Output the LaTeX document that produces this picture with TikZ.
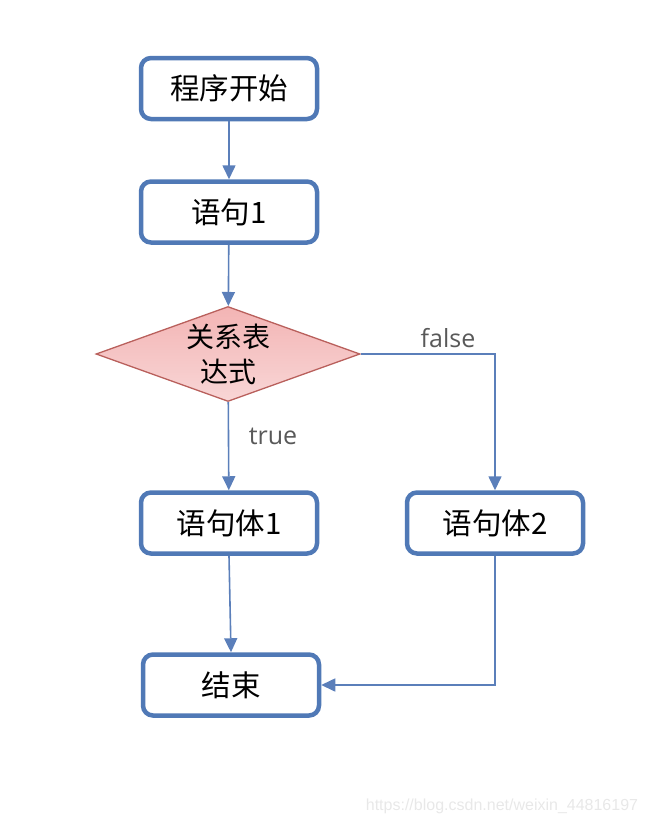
\documentclass[tikz,border=0pt]{standalone}
\usepackage{fontspec}
\setmainfont{Open Sans}
\newfontfamily\cjk{Noto Sans CJK SC}
\newfontfamily\wmfont{Liberation Sans}
\usetikzlibrary{shapes.geometric,arrows.meta}
\definecolor{boxblue}{HTML}{5079B6}
\definecolor{lineblue}{HTML}{5B7FBA}
\definecolor{dmdtop}{HTML}{F3B4B4}
\definecolor{dmdbot}{HTML}{F8D6D6}
\definecolor{dmdline}{HTML}{B9605C}
\definecolor{lbl}{HTML}{595959}
\definecolor{wm}{HTML}{E8E8E8}
\tikzset{
  stepbox/.style={draw=boxblue, line width=4.5pt, rounded corners=10pt, fill=white,
    minimum width=176pt, minimum height=61pt, inner sep=0pt,
    font=\cjk\fontsize{29.5}{34}\selectfont},
  decision/.style={diamond, draw=dmdline, line width=1.3pt, top color=dmdtop, bottom color=dmdbot,
    minimum width=264pt, minimum height=95pt, inner sep=0pt, aspect=2.78,
    align=center, font=\cjk\fontsize{28}{35}\selectfont},
  conn/.style={draw=lineblue, line width=1.6pt, -{Triangle[length=14pt,width=13pt]}},
  lab/.style={text=lbl, font=\fontsize{25}{28}\selectfont}
}
\begin{document}
\begin{tikzpicture}[x=1pt,y=-1pt]
\useasboundingbox (0,0) rectangle (646,828);
\node[stepbox] (start) at (229,88.5) {程序开始};
\node[stepbox] (s1) at (229,212) {语句1};
\node[decision] (cond) at (228,354) {关系表\\达式};
\node[stepbox] (b1) at (229,523) {语句体1};
\node[stepbox] (b2) at (495,523) {语句体2};
\node[stepbox] (end) at (231,685) {结束};
\coordinate (fr) at (b2.north |- cond.east);
\coordinate (br) at (b2.south |- end.east);
\draw[conn] (start) -- (s1);
\draw[conn] (s1) -- (cond);
\draw[conn] (cond) -- (b1);
\draw[conn] (cond.east) -- (fr) -- (b2.north);
\draw[conn] (b1.south) -- (end.north);
\draw[conn] (b2.south) -- (br) -- (end.east);
\node[lab] (tlab) at (273,436) {true};
\node[lab] (flab) at (448,338) {false};
\node[text=wm, font=\wmfont\fontsize{16}{18}\selectfont] (wmk) at (502,806) {https://blog.csdn.net/weixin\_44816197};
\end{tikzpicture}
\end{document}
